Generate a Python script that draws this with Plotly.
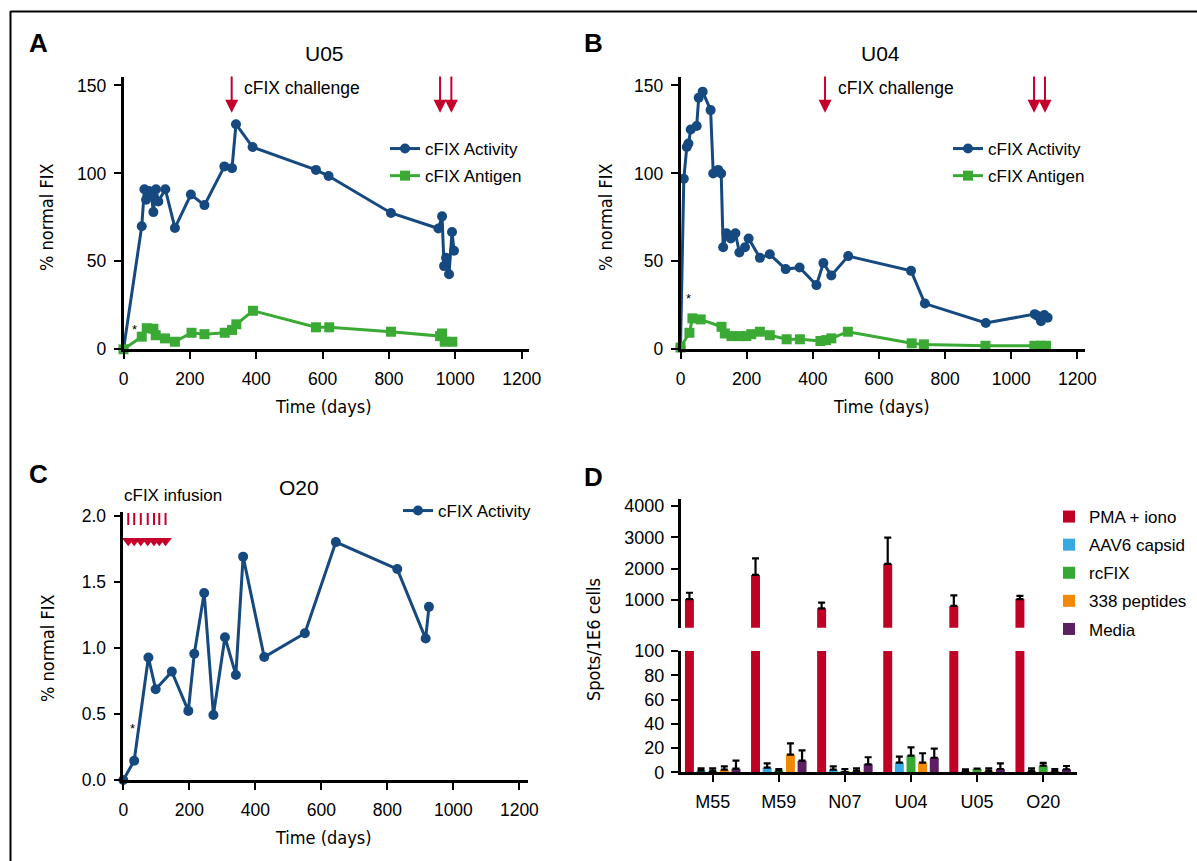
import plotly.graph_objects as go

W, H = 1197, 861

# ---------------- Panel A (U05) ----------------
a_act_days = [0, 55, 63, 68, 77, 84, 90, 98, 105, 126, 155, 203, 244, 304, 327, 339, 389, 580, 618, 806, 949, 960, 966, 972, 981, 990, 996]
a_act_vals = [0, 70, 91, 85, 90, 88, 78, 91, 84, 91, 69, 88, 82, 104, 103, 128, 115, 102, 98.5, 77.5, 68.7, 75.6, 47.3, 52, 42.7, 66.7, 56]
a_ag_days = [0, 55, 70, 90, 97, 125, 155, 205, 244, 305, 327, 340, 390, 580, 620, 806, 954, 960, 968, 991]
a_ag_vals = [0, 7.2, 12, 11.7, 8, 6.2, 4.3, 9.4, 8.6, 9.4, 11, 14.2, 21.9, 12.5, 12.5, 10, 7.5, 9, 4.3, 4.3]
a_challenge = [326]
a_rechallenge = [954, 988]

# ---------------- Panel B (U04) ----------------
b_act_days = [0, 10, 19, 24, 31, 49, 55, 67, 91, 99, 114, 123, 129, 139, 152, 166, 178, 195, 206, 240, 270, 318, 360, 411, 432, 456, 507, 697, 739, 923, 1071, 1080, 1090, 1100, 1110]
b_act_vals = [1, 97, 115, 117, 125, 127, 143, 146.5, 136, 100, 102, 100, 58, 66, 63, 66, 55, 58, 63, 52, 54, 45.6, 46.5, 36.5, 49, 42, 53, 44.6, 26, 15, 20, 19, 16, 19.5, 18]
b_ag_days = [0, 27, 36, 61, 124, 134, 154, 179, 199, 214, 240, 270, 321, 361, 423, 440, 456, 506, 699, 736, 922, 1070, 1090, 1105]
b_ag_vals = [1, 9.4, 17.6, 17, 12.8, 9, 7.5, 7.5, 7.5, 8.6, 10, 8, 5.7, 5.7, 4.7, 5.2, 6.2, 10, 3.4, 2.8, 2, 2, 2, 2]
b_challenge = [437]
b_rechallenge = [1069, 1102]

# ---------------- Panel C (O20) ----------------
c_days = [0, 33, 76, 98, 147, 197, 215, 245, 273, 308, 341, 363, 427, 550, 644, 830, 916, 926]
c_vals = [0, 0.146, 0.927, 0.687, 0.82, 0.523, 0.955, 1.415, 0.492, 1.08, 0.795, 1.69, 0.93, 1.11, 1.80, 1.596, 1.07, 1.31]
c_infusions = [15, 33, 53, 74, 93, 109, 128]

# ---------------- Panel D (ELISPOT) ----------------
d_subjects = ["M55", "M59", "N07", "U04", "U05", "O20"]
d_series = ["PMA + iono", "AAV6 capsid", "rcFIX", "338 peptides", "Media"]
d_pma = [1030, 1800, 735, 2150, 810, 1030]
d_pma_err = [200, 530, 180, 840, 340, 100]
d_aav6 = [1.4, 3.8, 2.2, 8.0, 1.1, 1.1]
d_aav6_err = [1.9, 3.6, 2.7, 4.9, 1.4, 2.2]
d_rcfix = [1.1, 1.4, 0.3, 13.7, 3.0, 5.5]
d_rcfix_err = [2.2, 1.3, 2.4, 6.9, 0.0, 2.2]
d_pep = [2.2, 14.6, 1.1, 8.0, 1.1, 1.1]
d_pep_err = [2.7, 9.3, 2.2, 7.7, 2.2, 1.6]
d_media = [3.0, 9.6, 6.6, 12.0, 2.7, 2.5]
d_media_err = [6.6, 8.5, 5.8, 7.5, 4.7, 2.7]

BLUE = "#15497f"
GREEN = "#3aaa35"
RED = "#c4002b"
D_COLORS = ["#c10026", "#36a9e1", "#36a935", "#f18a00", "#5b1f62"]
FONT = "Liberation Sans, Arial, Helvetica, sans-serif"
NARROW = "Liberation Sans Narrow, DejaVu Sans Condensed, Liberation Sans, sans-serif"


def px_x(p):
    return p / W


def px_y(p):
    return 1 - p / H


fig = go.Figure()

# Panel A traces
fig.add_trace(go.Scatter(x=a_act_days, y=a_act_vals, mode="lines+markers", name="cFIX Activity",
                         line=dict(color=BLUE, width=3), marker=dict(symbol="circle", size=10, color=BLUE),
                         xaxis="x", yaxis="y", cliponaxis=False, legend="legend", legendgroup="a1"))
fig.add_trace(go.Scatter(x=a_ag_days, y=a_ag_vals, mode="lines+markers", name="cFIX Antigen",
                         line=dict(color=GREEN, width=3), marker=dict(symbol="square", size=10, color=GREEN),
                         xaxis="x", yaxis="y", cliponaxis=False, legend="legend", legendgroup="a2"))
# Panel B traces
fig.add_trace(go.Scatter(x=b_act_days, y=b_act_vals, mode="lines+markers", name="cFIX Activity",
                         line=dict(color=BLUE, width=3), marker=dict(symbol="circle", size=10, color=BLUE),
                         xaxis="x2", yaxis="y2", cliponaxis=False, legend="legend2", legendgroup="b1"))
fig.add_trace(go.Scatter(x=b_ag_days, y=b_ag_vals, mode="lines+markers", name="cFIX Antigen",
                         line=dict(color=GREEN, width=3), marker=dict(symbol="square", size=10, color=GREEN),
                         xaxis="x2", yaxis="y2", cliponaxis=False, legend="legend2", legendgroup="b2"))
# Panel C traces
fig.add_trace(go.Scatter(x=c_days, y=c_vals, mode="lines+markers", name="cFIX Activity",
                         line=dict(color=BLUE, width=3), marker=dict(symbol="circle", size=10, color=BLUE),
                         xaxis="x3", yaxis="y3", cliponaxis=False, legend="legend3", legendgroup="c1"))
# infusion arrows in C (dashed shafts + heads)
shaft_x, shaft_y = [], []
for d in c_infusions:
    shaft_x += [d, d, None]
    shaft_y += [2.02, 1.86, None]
fig.add_trace(go.Scatter(x=shaft_x, y=shaft_y, mode="lines", line=dict(color=RED, width=2, dash="12px,10px"),
                         xaxis="x3", yaxis="y3", cliponaxis=False, showlegend=False, hoverinfo="skip"))
fig.add_trace(go.Scatter(x=c_infusions, y=[1.81] * len(c_infusions), mode="markers",
                         marker=dict(symbol="triangle-down", size=11, color=RED),
                         xaxis="x3", yaxis="y3", cliponaxis=False, showlegend=False, hoverinfo="skip"))

# Panel D traces: lower (0-100) and upper (broken) axes
d_vals = [d_pma, d_aav6, d_rcfix, d_pep, d_media]
d_errs = [d_pma_err, d_aav6_err, d_rcfix_err, d_pep_err, d_media_err]
for i, name in enumerate(d_series):
    for xa, ya, show in (("x4", "y4", True), ("x5", "y5", False)):
        fig.add_trace(go.Bar(x=d_subjects, y=d_vals[i], name=name, marker=dict(color=D_COLORS[i], line=dict(width=0)),
                             error_y=dict(type="data", array=d_errs[i], arrayminus=[0] * 6, symmetric=False,
                                          color="black", thickness=2.2, width=3.5),
                             xaxis=xa, yaxis=ya, showlegend=show, legend="legend4", legendgroup="d%d" % i))

axis_common = dict(showline=True, linecolor="black", linewidth=2.5, ticks="outside", ticklen=7, tickwidth=2,
                   tickcolor="black", showgrid=False, zeroline=False, automargin=False,
                   tickfont=dict(family=FONT, size=17.5, color="black"))
big_tick = dict(family=FONT, size=18, color="black")

fig.update_layout(
    width=W, height=H, margin=dict(l=0, r=0, t=0, b=0, autoexpand=False), plot_bgcolor="white", paper_bgcolor="white",
    font=dict(family=FONT, color="black"), showlegend=True, barmode="group", bargap=0.12, bargroupgap=0.23,
    xaxis=dict(domain=[px_x(123.5), px_x(529)], range=[0, 1222], tickvals=[0, 200, 400, 600, 800, 1000, 1200],
               anchor="y", ticklabelstandoff=5, **axis_common),
    yaxis=dict(domain=[px_y(349.3), px_y(76.7)], range=[0, 155], tickvals=[0, 50, 100, 150], anchor="x",
               ticklabelstandoff=4, **axis_common),
    xaxis2=dict(domain=[px_x(680.5), px_x(1085)], range=[0, 1223], tickvals=[0, 200, 400, 600, 800, 1000, 1200],
                anchor="y2", ticklabelstandoff=5, **axis_common),
    yaxis2=dict(domain=[px_y(349.3), px_y(76.7)], range=[0, 155], tickvals=[0, 50, 100, 150], anchor="x2",
                ticklabelstandoff=4, **axis_common),
    xaxis3=dict(domain=[px_x(123.3), px_x(528.3)], range=[0, 1227], tickvals=[0, 200, 400, 600, 800, 1000, 1200],
                anchor="y3", ticklabelstandoff=5, **axis_common),
    yaxis3=dict(domain=[px_y(780), px_y(511.7)], range=[0, 2.03], tickvals=[0, 0.5, 1.0, 1.5, 2.0],
                ticktext=["0.0", "0.5", "1.0", "1.5", "2.0"], anchor="x3", ticklabelstandoff=4, **axis_common),
    xaxis4=dict(domain=[px_x(680.7), px_x(1076.7)], range=[-0.484, 5.507], type="category", anchor="y4",
                ticklabelstandoff=4, **{**axis_common, "linewidth": 3, "tickfont": big_tick}),
    yaxis4=dict(domain=[px_y(772.3), px_y(651)], range=[0, 100], tickvals=[0, 20, 40, 60, 80, 100], anchor="x4",
                ticklabelstandoff=3, **{**axis_common, "tickfont": big_tick}),
    xaxis5=dict(domain=[px_x(680.7), px_x(1076.7)], range=[-0.484, 5.507], type="category", anchor="y5",
                matches="x4", showline=False, showticklabels=False, ticks="", showgrid=False, zeroline=False,
                automargin=False),
    yaxis5=dict(domain=[px_y(627.7), px_y(499.3)], range=[115, 4214], tickvals=[1000, 2000, 3000, 4000], anchor="x5",
                ticklabelstandoff=3, **{**axis_common, "tickfont": big_tick}),
    legend=dict(x=px_x(385), y=px_y(131), xanchor="left", yanchor="top", bgcolor="rgba(0,0,0,0)",
                font=dict(family=FONT, size=17), tracegroupgap=2),
    legend2=dict(x=px_x(948), y=px_y(131), xanchor="left", yanchor="top", bgcolor="rgba(0,0,0,0)",
                 font=dict(family=FONT, size=17), tracegroupgap=2),
    legend3=dict(x=px_x(398), y=px_y(493), xanchor="left", yanchor="top", bgcolor="rgba(0,0,0,0)",
                 font=dict(family=FONT, size=17), tracegroupgap=2),
    legend4=dict(x=px_x(1049), y=px_y(499), xanchor="left", yanchor="top", bgcolor="rgba(0,0,0,0)",
                 font=dict(family=FONT, size=17), tracegroupgap=3),
)

ann = []
# panel letters
for txt, x, y in (("A", 38, 43), ("B", 593, 43), ("C", 38, 474), ("D", 593, 477)):
    ann.append(dict(text="<b>%s</b>" % txt, x=px_x(x), y=px_y(y), xref="paper", yref="paper", showarrow=False,
                    font=dict(family=FONT, size=26, color="black"), xanchor="center", yanchor="middle"))
# subject titles
for txt, x, y in (("U05", 324, 53), ("U04", 880, 53), ("O20", 299, 487)):
    ann.append(dict(text=txt, x=px_x(x), y=px_y(y), xref="paper", yref="paper", showarrow=False,
                    font=dict(family=FONT, size=21, color="black"), xanchor="center", yanchor="middle"))
# axis titles
for txt, x, y, ang in (("Time (days)", 323, 406, 0), ("Time (days)", 881, 406, 0), ("Time (days)", 323, 837, 0),
                       ("% normal FIX", 47, 217, -90), ("% normal FIX", 606, 217, -90), ("% normal FIX", 47, 648, -90),
                       ("Spots/1E6 cells", 593, 640, -90)):
    ann.append(dict(text=txt, x=px_x(x), y=px_y(y), xref="paper", yref="paper", showarrow=False, textangle=ang,
                    font=dict(family=NARROW, size=18, color="black"), xanchor="center", yanchor="middle"))
# challenge arrows
for xr, yr, days in (("x", "y", a_challenge + a_rechallenge), ("x2", "y2", b_challenge + b_rechallenge)):
    for d in days:
        ann.append(dict(text="", x=d, y=134.5, ax=d, ay=156, xref=xr, yref=yr, axref=xr, ayref=yr, showarrow=True,
                        arrowhead=2, arrowsize=1.3, arrowwidth=2, arrowcolor=RED))
ann.append(dict(text="cFIX challenge", x=a_challenge[0] + 30, y=148.3, xref="x", yref="y", showarrow=False,
                xanchor="left", yanchor="middle", font=dict(family=FONT, size=17.5, color="black")))
ann.append(dict(text="cFIX challenge", x=b_challenge[0] + 32, y=148.3, xref="x2", yref="y2", showarrow=False,
                xanchor="left", yanchor="middle", font=dict(family=FONT, size=17.5, color="black")))
ann.append(dict(text="cFIX infusion", x=px_x(122), y=px_y(495), xref="paper", yref="paper", showarrow=False,
                xanchor="left", yanchor="middle", font=dict(family=FONT, size=17, color="black")))
# asterisks
for xr, yr, xv, yv in (("x", "y", 32, 11.5), ("x2", "y2", 24, 29), ("x3", "y3", 27, 0.39)):
    ann.append(dict(text="*", x=xv, y=yv, xref=xr, yref=yr, showarrow=False, font=dict(family=FONT, size=13, color="black")))
fig.update_layout(annotations=ann)

# figure frame (left and top border)
fig.update_layout(shapes=[
    dict(type="line", xref="paper", yref="paper", x0=px_x(10.5), x1=px_x(10.5), y0=0, y1=px_y(11), line=dict(color="black", width=2)),
    dict(type="line", xref="paper", yref="paper", x0=px_x(10.5), x1=1, y0=px_y(11.5), y1=px_y(11.5), line=dict(color="black", width=2)),
])

fig.write_html("out.html", config={"displayModeBar": False},
               post_script="document.body.style.margin='0';document.body.style.overflow='hidden';")
